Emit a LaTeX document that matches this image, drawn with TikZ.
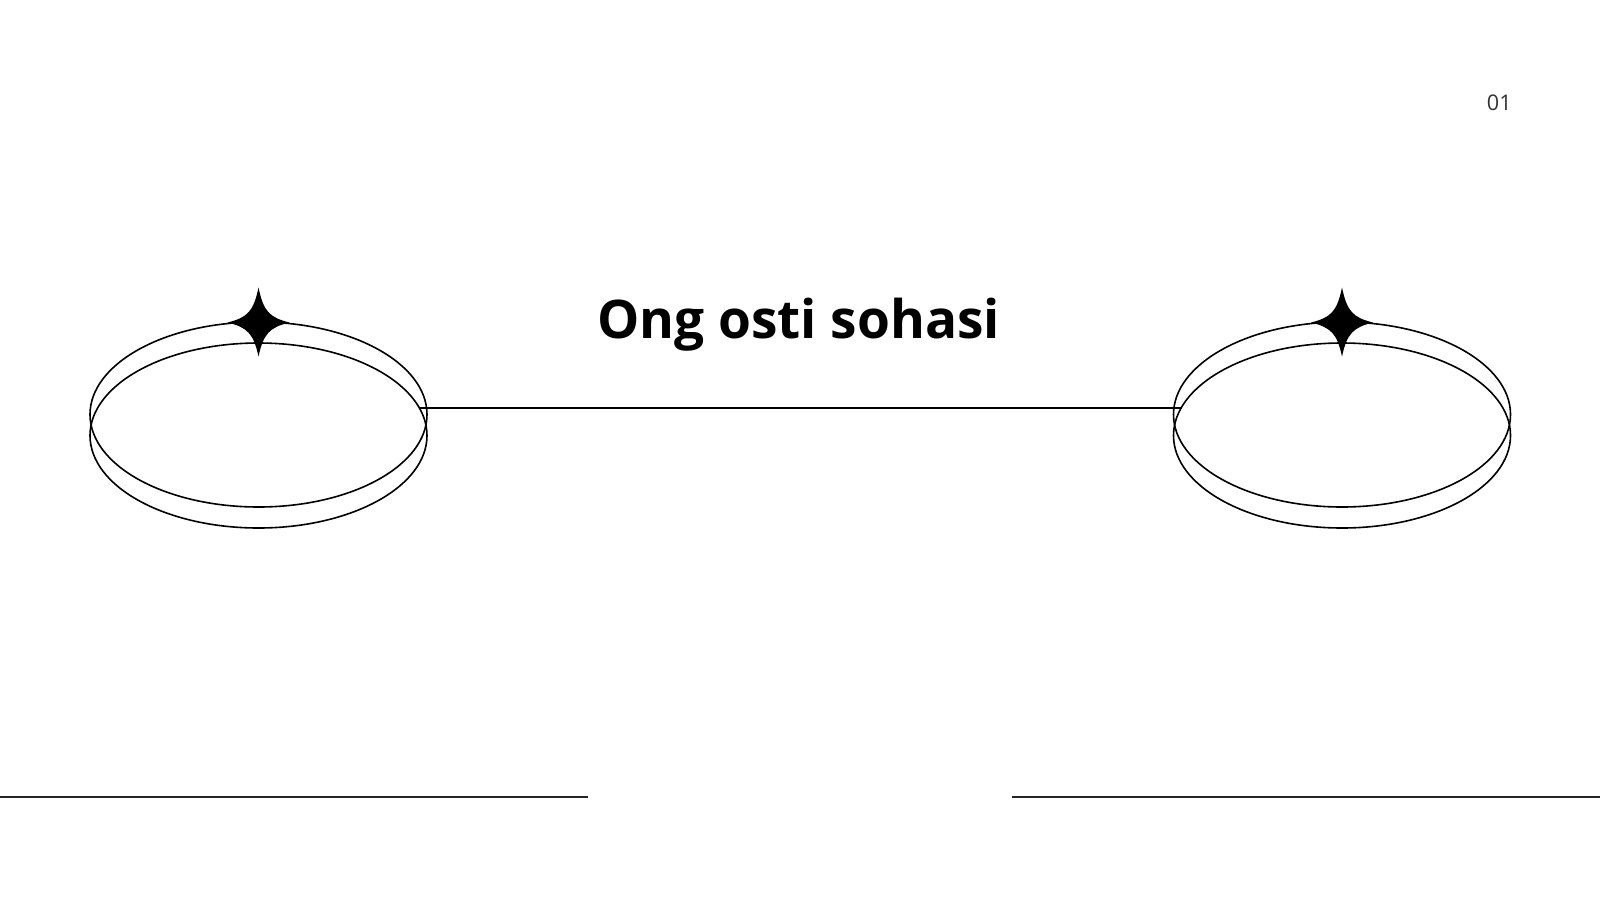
\documentclass[tikz,border=0pt]{standalone}
\usepackage{fontspec}
\setmainfont{Open Sans}
\usetikzlibrary{calc}

\begin{document}
\begin{tikzpicture} [x=.5pt, y=-.5pt, rim/.style={black, line width=.8pt}, rule/.style={black!85, line width=.9pt}]
\useasboundingbox (0,0) rectangle (1600,900);
\coordinate (L) at (258.5,414.5);
\coordinate (R) at (1342,414.5);
\foreach \c in {L, R} {
 \draw[rim] (\c) ellipse [x radius=168.5, y radius=92.5];
 \draw[rim] ($(\c)+(0,21)$) ellipse [x radius=168.5, y radius=92.5];
 \fill[black, shift={($(\c)+(0,-92)$)}] (0,-35) .. controls (5,-11) and (11,-5) .. (31,0)
   .. controls (11,5) and (5,11) .. (0,34) .. controls (-5,11) and (-11,5) .. (-31,0)
   .. controls (-11,-5) and (-5,-11) .. (0,-35) -- cycle;
}
\coordinate (La) at (419.4,408);
\coordinate (Ra) at (1181.6,408);
\draw[rim] (La) -- (Ra);
\node[anchor=base, inner sep=0, font=\fontsize{26.6}{30}\selectfont\bfseries] (title) at (798.5,338) {Ong osti sohasi};
\node[anchor=base east, inner sep=0, text=black!80, font=\fontsize{10.8}{12}\selectfont] (num) at (1512,110) {01};
\coordinate (b1) at (0,797);
\coordinate (b2) at (588,797);
\coordinate (b3) at (1012,797);
\coordinate (b4) at (1600,797);
\draw[rule] (b1) -- (b2);
\draw[rule] (b3) -- (b4);
\end{tikzpicture}
\end{document}
